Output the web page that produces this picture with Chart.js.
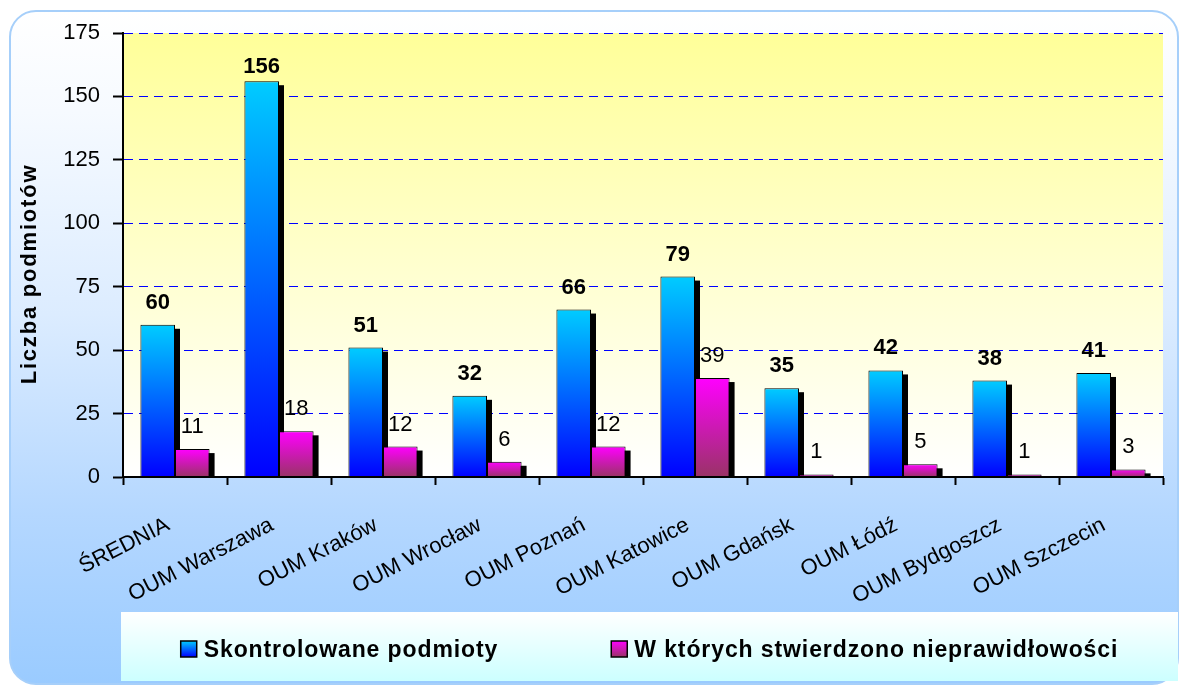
<!DOCTYPE html>
<html><head><meta charset="utf-8">
<script src="https://cdn.jsdelivr.net/npm/chart.js@4.4.1/dist/chart.umd.min.js"></script>
<style>html,body{margin:0;padding:0;background:#fff;overflow:hidden}canvas{display:block}</style>
</head><body>
<canvas id="c" width="1182" height="686"></canvas>
<script>
const categories = ['ŚREDNIA','OUM Warszawa','OUM Kraków','OUM Wrocław','OUM Poznań','OUM Katowice','OUM Gdańsk','OUM Łódź','OUM Bydgoszcz','OUM Szczecin'];
const controlled = [60,156,51,32,66,79,35,42,38,41];
const irregular = [11,18,12,6,12,39,1,5,1,3];
const seriesNames = ['Skontrolowane podmioty','W których stwierdzono nieprawidłowości'];
const yTitle = 'Liczba podmiotów';
const yMin = 0, yMax = 175, yStep = 25;

const FONT = "'Liberation Sans', Arial, sans-serif";
const BLUE = ['#00CCFF','#0000FF'];
const PINK = ['#FF00FF','#993366'];

function vGrad(ctx, y0, y1, c0, c1){
  const g = ctx.createLinearGradient(0, y0, 0, y1);
  g.addColorStop(0, c0); g.addColorStop(1, c1); return g;
}
function barFill(cols){
  return (c) => {
    const ch = c.chart;
    if (!ch.chartArea || c.type !== 'data') return cols[0];
    const s = ch.scales.y;
    const v = c.parsed ? c.parsed.y : c.raw;
    return vGrad(ch.ctx, s.getPixelForValue(v), s.getPixelForValue(0), cols[0], cols[1]);
  };
}

const bgPlugin = {
  id: 'bg',
  beforeDraw(chart){
    const ctx = chart.ctx, W = chart.width, H = chart.height;
    ctx.save();
    ctx.fillStyle = '#fff'; ctx.fillRect(0,0,W,H);
    const x=10, y=11, w=1168, h=673, r=26;
    const g = ctx.createLinearGradient(0, y, 0, y+h);
    g.addColorStop(0, '#FFFFFF');
    g.addColorStop(0.15, '#F6FAFF');
    g.addColorStop(0.45, '#DCECFF');
    g.addColorStop(0.75, '#B4D7FF');
    g.addColorStop(1, '#9ACBFF');
    ctx.beginPath(); ctx.roundRect(x,y,w,h,r);
    ctx.fillStyle = g; ctx.fill();
    ctx.lineWidth = 2; ctx.strokeStyle = '#A6CFFA'; ctx.stroke();
    const a = chart.chartArea;
    ctx.fillStyle = vGrad(ctx, a.top, a.bottom, '#FFFF99', '#FFFFFF');
    ctx.fillRect(a.left, a.top, a.right-a.left, a.bottom-a.top);
    ctx.restore();
  }
};

const shadowPlugin = {
  id: 'shadow',
  beforeDatasetsDraw(chart){
    const ctx = chart.ctx;
    ctx.save(); ctx.fillStyle = '#000';
    chart.data.datasets.forEach((d,i) => {
      chart.getDatasetMeta(i).data.forEach(el => {
        const p = el.getProps(['x','y','base','width'], true);
        const left = p.x - p.width/2 + 5, top = p.y + 4;
        if (p.base > top) ctx.fillRect(left, top, p.width, p.base - top);
      });
    });
    ctx.restore();
  }
};

const labelPlugin = {
  id: 'vlabels',
  afterDatasetsDraw(chart){
    const ctx = chart.ctx;
    ctx.save();
    ctx.fillStyle = '#000'; ctx.textAlign = 'center'; ctx.textBaseline = 'alphabetic';
    chart.data.datasets.forEach((d,i) => {
      ctx.font = (i===0 ? 'bold ' : '') + '22px ' + FONT;
      chart.getDatasetMeta(i).data.forEach((el,j) => {
        const p = el.getProps(['x','y'], true);
        const by = Math.max(p.y - 16, chart.chartArea.top + 40);
        ctx.fillText(String(d.data[j]), p.x, by);
      });
    });
    ctx.restore();
  }
};

const titlePlugin = {
  id: 'ytitle',
  afterDraw(chart){
    const ctx = chart.ctx;
    ctx.save();
    ctx.translate(36, 274);
    ctx.rotate(-Math.PI/2);
    ctx.font = 'bold 22px ' + FONT;
    ctx.letterSpacing = '1.8px';
    ctx.fillStyle = '#000'; ctx.textAlign = 'center'; ctx.textBaseline = 'alphabetic';
    ctx.fillText(yTitle, 0, 0);
    ctx.restore();
  }
};

const legendPlugin = {
  id: 'customLegend',
  afterDraw(chart){
    const ctx = chart.ctx;
    const bx = 121, by = 612, bw = 1178-121, bh = 69;
    ctx.save();
    ctx.fillStyle = vGrad(ctx, by, by+bh, '#FFFFFF', '#CCFFFF');
    ctx.fillRect(bx, by, bw, bh);
    ctx.font = 'bold 23px ' + FONT;
    ctx.letterSpacing = '0.9px';
    ctx.textBaseline = 'alphabetic'; ctx.textAlign = 'left';
    const box = 16, gapBT = 7, gapItems = 113;
    const widths = seriesNames.map(s => ctx.measureText(s).width);
    const total = widths.reduce((a,w) => a + box + gapBT + w, 0) + gapItems*(seriesNames.length-1);
    let x = bx + bw/2 - total/2;
    const baseY = 657;
    const cols = [BLUE, PINK];
    seriesNames.forEach((s,i) => {
      ctx.fillStyle = vGrad(ctx, baseY-16, baseY, cols[i][0], cols[i][1]);
      ctx.fillRect(x, baseY-16, box, box);
      ctx.lineWidth = 1.5; ctx.strokeStyle = '#000';
      ctx.strokeRect(x, baseY-16, box, box);
      ctx.fillStyle = '#000';
      ctx.fillText(s, x + box + gapBT, baseY);
      x += box + gapBT + widths[i] + gapItems;
    });
    ctx.restore();
  }
};

new Chart(document.getElementById('c'), {
  type: 'bar',
  data: {
    labels: categories,
    datasets: [
      { label: seriesNames[0], data: controlled, backgroundColor: barFill(BLUE), borderColor: '#000', borderWidth: 1 },
      { label: seriesNames[1], data: irregular, backgroundColor: barFill(PINK), borderColor: '#000', borderWidth: 1 }
    ]
  },
  options: {
    responsive: false,
    animation: false,
    events: [],
    layout: { padding: { top: 33, right: 19, bottom: 0, left: 0 } },
    datasets: { bar: { categoryPercentage: 0.665, barPercentage: 1.0 } },
    plugins: { legend: { display: false }, tooltip: { enabled: false } },
    scales: {
      x: {
        offset: true,
        grid: { display: true, offset: true, drawOnChartArea: false, drawTicks: true, tickLength: 8, tickColor: '#000', tickWidth: 2, z: 1 },
        border: { display: true, color: '#000', width: 2, z: 1 },
        ticks: { color: '#000', font: { family: FONT, size: 22 }, minRotation: 27, maxRotation: 27, padding: 27, labelOffset: -7, autoSkip: false, z: 1 },
        afterFit(s){ s.height = 686 - 477; }
      },
      y: {
        min: yMin, max: yMax,
        ticks: { stepSize: yStep, color: '#000', font: { family: FONT, size: 22 }, padding: 13 },
        grid: { color: '#0000FF', lineWidth: 1, tickColor: '#000', tickLength: 10, tickWidth: 2, tickBorderDash: [] },
        border: { display: true, color: '#000', width: 2, dash: [9, 6] },
        afterFit(s){ s.width = 123; }
      }
    }
  },
  plugins: [bgPlugin, shadowPlugin, labelPlugin, titlePlugin, legendPlugin]
});
</script>
</body></html>
